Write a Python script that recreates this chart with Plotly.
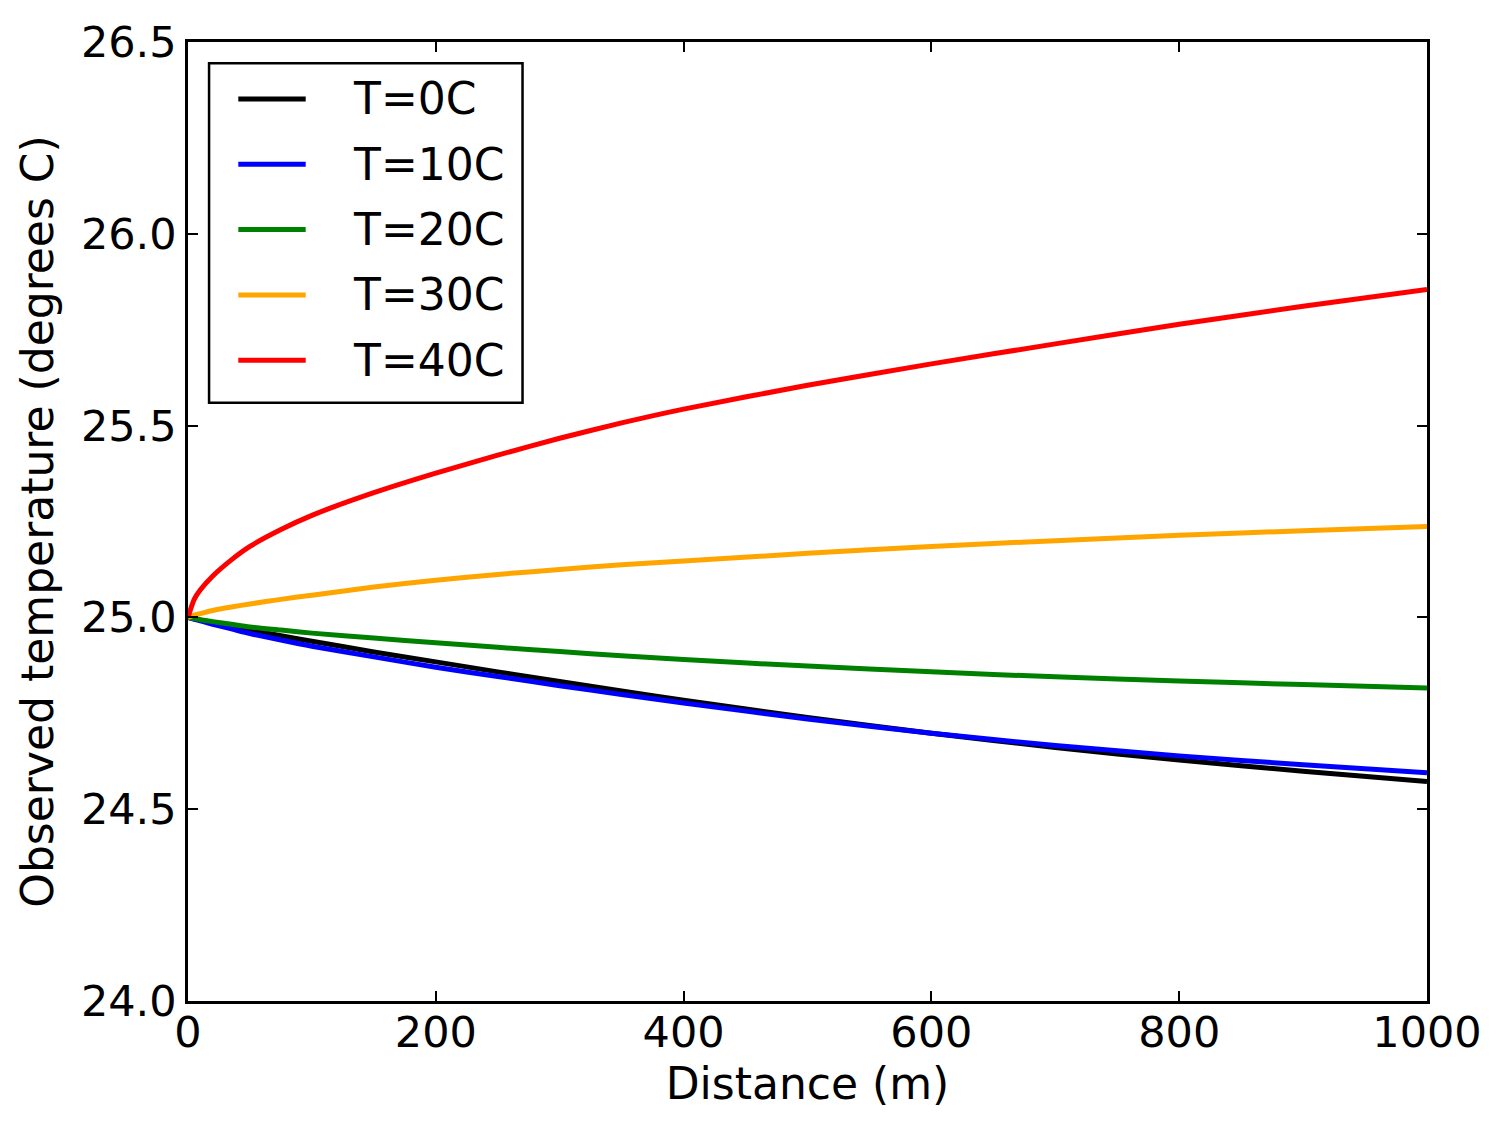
import plotly.graph_objects as go

distance_m = [0, 5, 10, 20, 35, 50, 75, 100, 150, 200, 250, 300, 350, 400, 500, 600, 700, 800, 900, 1000]

temp_T0 = [25.000, 24.997, 24.993, 24.987, 24.977, 24.967, 24.952, 24.938, 24.910, 24.884, 24.858, 24.833, 24.808, 24.784, 24.739, 24.698, 24.661, 24.628, 24.599, 24.572]
temp_T10 = [25.000, 24.995, 24.991, 24.982, 24.970, 24.958, 24.941, 24.925, 24.897, 24.870, 24.846, 24.822, 24.799, 24.777, 24.735, 24.698, 24.666, 24.639, 24.616, 24.595]
temp_T20 = [25.000, 24.997, 24.994, 24.989, 24.982, 24.975, 24.967, 24.959, 24.946, 24.934, 24.922, 24.911, 24.900, 24.890, 24.873, 24.858, 24.845, 24.834, 24.825, 24.816]
temp_T30 = [25.000, 25.006, 25.010, 25.018, 25.027, 25.035, 25.047, 25.058, 25.079, 25.097, 25.112, 25.125, 25.137, 25.147, 25.167, 25.185, 25.200, 25.214, 25.226, 25.237]
temp_T40 = [25.000, 25.047, 25.072, 25.108, 25.150, 25.185, 25.229, 25.266, 25.325, 25.376, 25.423, 25.467, 25.507, 25.543, 25.605, 25.661, 25.713, 25.764, 25.811, 25.855]

series_names = ["T=0C", "T=10C", "T=20C", "T=30C", "T=40C"]
series_values = [temp_T0, temp_T10, temp_T20, temp_T30, temp_T40]
series_colors = ["black", "blue", "green", "orange", "red"]

x_ticks = [0, 200, 400, 600, 800, 1000]
y_ticks = [24.0, 24.5, 25.0, 25.5, 26.0, 26.5]

FONT = "DejaVu Sans"
TICK_FS = 43
TITLE_FS = 44
LEG_FS = 44

fig = go.Figure()
for name, vals, col in zip(series_names, series_values, series_colors):
    fig.add_trace(go.Scatter(x=distance_m, y=vals, mode="lines", name=name, showlegend=False,
                             line=dict(color=col, width=5, shape="spline", smoothing=0.7)))

axis_common = dict(showline=True, linewidth=2.5, linecolor="black", mirror="ticks",
                   ticks="inside", ticklen=10, tickwidth=1.5, tickcolor="black",
                   showgrid=False, zeroline=False,
                   tickfont=dict(family=FONT, size=TICK_FS, color="black"))

fig.update_xaxes(range=[0, 1000], tickvals=x_ticks, ticktext=[str(v) for v in x_ticks],
                 ticklabelstandoff=-8,
                 title=dict(text="Distance (m)", font=dict(family=FONT, size=TITLE_FS, color="black"), standoff=12),
                 **axis_common)
fig.update_yaxes(range=[24.0, 26.5], tickvals=y_ticks, ticktext=[f"{v:.1f}" for v in y_ticks],
                 title=dict(text="Observed temperature (degrees C)", font=dict(family=FONT, size=TITLE_FS, color="black"), standoff=14),
                 **axis_common)

# Legend box drawn in the matplotlib style (long sample lines, framed box)
leg_x0, leg_x1 = 0.0170, 0.2700
leg_y0, leg_y1 = 0.6239, 0.9778
line_x0, line_x1 = 0.0406, 0.0950
text_x = 0.1316
row_top = 0.9406
row_step = 0.0681

shapes = [dict(type="rect", xref="paper", yref="paper", x0=leg_x0, x1=leg_x1, y0=leg_y0, y1=leg_y1,
               line=dict(color="black", width=2.5), fillcolor="white", layer="above")]
annotations = []
for i, (name, col) in enumerate(zip(series_names, series_colors)):
    yy = row_top - i * row_step
    shapes.append(dict(type="line", xref="paper", yref="paper", x0=line_x0, x1=line_x1, y0=yy, y1=yy,
                       line=dict(color=col, width=5), layer="above"))
    annotations.append(dict(xref="paper", yref="paper", x=text_x, y=yy, xanchor="left", yanchor="middle",
                            text=name, showarrow=False,
                            font=dict(family=FONT, size=LEG_FS, color="black")))

fig.update_layout(
    width=1504, height=1132,
    margin=dict(l=188, r=77, t=42, b=131),
    paper_bgcolor="white", plot_bgcolor="white",
    font=dict(family=FONT, size=TICK_FS, color="black"),
    showlegend=False,
    shapes=shapes,
    annotations=annotations,
)

fig.write_html("out.html")
